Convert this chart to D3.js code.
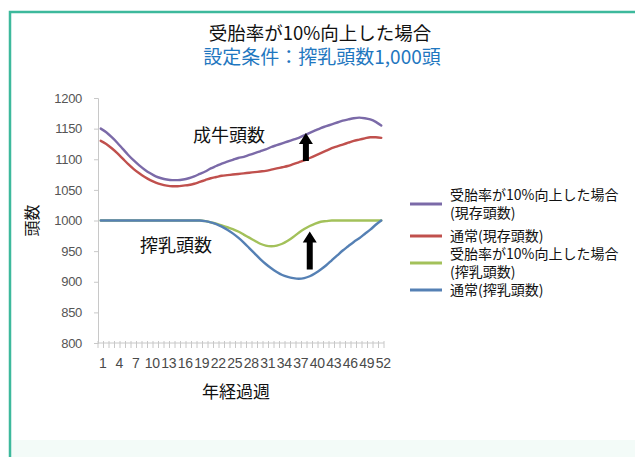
<!DOCTYPE html>
<html lang="ja">
<head>
<meta charset="utf-8">
<script src="https://cdn.jsdelivr.net/npm/d3@7"></script>
<style>
  html, body { margin: 0; padding: 0; background: #fff; }
  svg { display: block; }
  .cjk { font-family: "Noto Sans CJK JP", "Noto Sans", sans-serif; }
  .num { font-family: "Liberation Sans", Arial, sans-serif; }
</style>
</head>
<body>
<svg id="chart" width="635" height="457"></svg>
<script>
// Weeks elapsed in the year (x categories)
const weeks = d3.range(1, 53);
const xTickLabels = weeks.filter(w => (w - 1) % 3 === 0);
const yTicks = [800, 850, 900, 950, 1000, 1050, 1100, 1150, 1200];

// 受胎率が10%向上した場合（現存頭数）
const improvedHerd = [
  1150, 1144, 1136, 1127, 1117, 1107, 1098, 1090, 1083, 1077,
  1072, 1069, 1067, 1066, 1066, 1067, 1069, 1072, 1076, 1080,
  1085, 1089, 1093, 1096, 1099, 1102, 1104, 1107, 1110, 1113,
  1116, 1120, 1123, 1126, 1129, 1132, 1135, 1139, 1143, 1147,
  1151, 1154, 1157, 1160, 1163, 1165, 1167, 1168, 1167, 1165,
  1161, 1155
];
// 通常（現存頭数）
const normalHerd = [
  1130, 1125, 1118, 1110, 1101, 1092, 1084, 1077, 1071, 1066,
  1062, 1059, 1057, 1056, 1056, 1057, 1058, 1060, 1063, 1066,
  1069, 1071, 1073, 1074, 1075, 1076, 1077, 1078, 1079, 1080,
  1081, 1083, 1085, 1087, 1089, 1092, 1095, 1098, 1102, 1106,
  1110, 1114, 1118, 1121, 1124, 1127, 1130, 1132, 1134, 1136,
  1136, 1135
];
// 受胎率が10%向上した場合（搾乳頭数）
const improvedMilking = [
  1000, 1000, 1000, 1000, 1000, 1000, 1000, 1000, 1000, 1000,
  1000, 1000, 1000, 1000, 1000, 1000, 1000, 1000, 1000, 999,
  997, 995, 992, 989, 986, 982, 977, 972, 967, 962,
  959, 958, 959, 962, 967, 973, 980, 986, 991, 995,
  998, 999, 1000, 1000, 1000, 1000, 1000, 1000, 1000, 1000,
  1000, 1000
];
// 通常（搾乳頭数）
const normalMilking = [
  1000, 1000, 1000, 1000, 1000, 1000, 1000, 1000, 1000, 1000,
  1000, 1000, 1000, 1000, 1000, 1000, 1000, 1000, 1000, 999,
  997, 994, 990, 985, 979, 972, 964, 955, 946, 937,
  929, 922, 916, 911, 908, 906, 905, 906, 909, 914,
  920, 927, 935, 943, 951, 958, 965, 971, 978, 985,
  993, 1000
];

const seriesNames = [
  ["受胎率が10%向上した場合", "(現存頭数)"],
  ["通常(現存頭数)"],
  ["受胎率が10%向上した場合", "(搾乳頭数)"],
  ["通常(搾乳頭数)"]
];
const seriesValues = [improvedHerd, normalHerd, improvedMilking, normalMilking];
const seriesColors = ["#7b6aa8", "#c0504d", "#a3c15a", "#5580b4"];

// Arrows showing the gain: week position, value at tail, value at tip
const arrowWeeks = [38.3, 39.0];
const arrowFrom = [1097, 920];
const arrowTo = [1143, 982];

const svg = d3.select("#chart");

// Page frame
svg.append("rect").attr("x", 11).attr("y", 440).attr("width", 624).attr("height", 17)
  .attr("fill", "#f3fbf8");
svg.append("path").attr("d", "M10,457 V12 H635")
  .attr("fill", "none").attr("stroke", "#3db99c").attr("stroke-width", 2.5);

// Titles
svg.append("text").attr("class", "cjk").attr("x", 320).attr("y", 40)
  .attr("text-anchor", "middle").attr("font-size", 18.5).attr("fill", "#111")
  .text("受胎率が10%向上した場合");
svg.append("text").attr("class", "cjk").attr("x", 322).attr("y", 64)
  .attr("text-anchor", "middle").attr("font-size", 19).attr("fill", "#1f77c0")
  .text("設定条件：搾乳頭数1,000頭");

// Scales
const x = d3.scaleBand().domain(weeks).range([98, 384]).padding(0);
const xc = w => x(w) + x.bandwidth() / 2;
const xLin = d3.scaleLinear().domain([1, 52]).range([xc(1), xc(52)]);
const y = d3.scaleLinear().domain([800, 1200]).range([343, 98]);

const axisColor = "#c8c8c8";

// Y axis
const yAxis = svg.append("g").attr("transform", "translate(98,0)")
  .call(d3.axisLeft(y).tickValues(yTicks).tickSize(4).tickPadding(12).tickFormat(d3.format("d")));
yAxis.select(".domain").attr("stroke", axisColor);
yAxis.selectAll(".tick line").attr("stroke", axisColor);
yAxis.selectAll(".tick text").attr("class", "num").attr("font-size", 13)
  .attr("fill", "#555").attr("letter-spacing", -0.3);

// X axis: category boundaries as tick marks, labels every third week
const xAxisG = svg.append("g").attr("transform", `translate(0,${y(800)})`);
xAxisG.append("line").attr("x1", 98).attr("x2", 384).attr("stroke", axisColor);
xAxisG.selectAll("line.tk").data(d3.range(0, 53)).join("line").attr("class", "tk")
  .attr("x1", i => 98 + i * x.bandwidth()).attr("x2", i => 98 + i * x.bandwidth())
  .attr("y1", -2).attr("y2", 5).attr("stroke", axisColor);
xAxisG.selectAll("text").data(xTickLabels).join("text").attr("class", "num")
  .attr("x", d => xc(d) + 2).attr("y", 25).attr("text-anchor", "middle")
  .attr("font-size", 14).attr("letter-spacing", -0.4).attr("fill", "#4a4a4a")
  .text(d => d);

// Axis titles
svg.append("text").attr("class", "cjk")
  .attr("transform", `translate(38,${y(1000)}) rotate(-90)`)
  .attr("text-anchor", "middle").attr("font-size", 16).attr("fill", "#111").text("頭数");
svg.append("text").attr("class", "cjk").attr("x", 236).attr("y", 398)
  .attr("text-anchor", "middle").attr("font-size", 17).attr("fill", "#111").text("年経過週");

// Lines
const line = d3.line().x((d, i) => xc(weeks[i])).y(d => y(d)).curve(d3.curveMonotoneX);
seriesValues.forEach((vals, k) => {
  svg.append("path").datum(vals).attr("d", line)
    .attr("fill", "none").attr("stroke", seriesColors[k])
    .attr("stroke-width", 2.4).attr("stroke-linejoin", "round").attr("stroke-linecap", "round");
});

// Group labels
svg.append("text").attr("class", "cjk").attr("x", 193).attr("y", 142)
  .attr("font-size", 18).attr("fill", "#111").text("成牛頭数");
svg.append("text").attr("class", "cjk").attr("x", 140).attr("y", 252)
  .attr("font-size", 18).attr("fill", "#111").text("搾乳頭数");

// Arrows
arrowWeeks.forEach((w, i) => {
  const cx = xLin(w), y0 = y(arrowFrom[i]), y1 = y(arrowTo[i]);
  const sw = 3, hw = 7, hl = 11;
  const p = d3.path();
  p.moveTo(cx - sw, y0); p.lineTo(cx - sw, y1 + hl); p.lineTo(cx - hw, y1 + hl);
  p.lineTo(cx, y1); p.lineTo(cx + hw, y1 + hl); p.lineTo(cx + sw, y1 + hl);
  p.lineTo(cx + sw, y0); p.closePath();
  svg.append("path").attr("d", p.toString()).attr("fill", "#000");
});

// Legend
const legendRows = [204, 236, 263, 290];
const legend = svg.append("g");
seriesNames.forEach((lines, k) => {
  const cy = legendRows[k];
  legend.append("line").attr("x1", 410).attr("x2", 442).attr("y1", cy).attr("y2", cy)
    .attr("stroke", seriesColors[k]).attr("stroke-width", 3);
  const t = legend.append("text").attr("class", "cjk").attr("font-size", 14).attr("fill", "#111");
  const start = cy - (lines.length - 1) * 18 / 2;
  lines.forEach((s, j) => {
    t.append("tspan").attr("x", 450).attr("y", start + j * 18 + 5).text(s);
  });
});
</script>
</body>
</html>
